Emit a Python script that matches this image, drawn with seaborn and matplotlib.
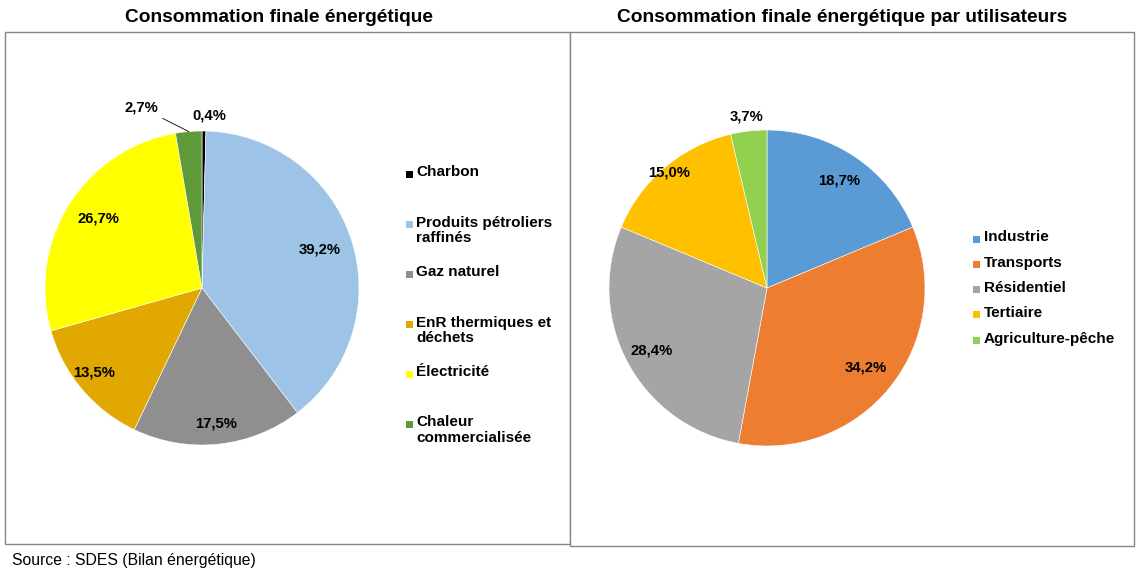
import matplotlib
matplotlib.use('Agg')
import matplotlib.pyplot as plt
import seaborn as sns
import numpy as np
from matplotlib.patches import Rectangle

sns.set_style('white')
plt.rcParams['font.family'] = ['Liberation Sans', 'DejaVu Sans']
plt.rcParams['text.color'] = 'black'

# --- data ---
sources = ['Charbon', 'Produits pétroliers\nraffinés', 'Gaz naturel',
           'EnR thermiques et\ndéchets', 'Électricité', 'Chaleur\ncommercialisée']
source_share = [0.4, 39.2, 17.5, 13.5, 26.7, 2.7]
source_colors = ['#000000', '#9DC3E6', '#8F8F8F', '#E0A800', '#FFFF00', '#5E9A3A']

users = ['Industrie', 'Transports', 'Résidentiel', 'Tertiaire', 'Agriculture-pêche']
user_share = [18.7, 34.2, 28.4, 15.0, 3.7]
user_colors = ['#5B9BD5', '#ED7D31', '#A5A5A5', '#FFC000', '#92D050']

W, H = 1143, 572
fig = plt.figure(figsize=(W / 100, H / 100), dpi=100)


def px_box(x0, y0, x1, y1):
    # pixel box (top-left origin) -> figure fraction [l, b, w, h]
    return [x0 / W, 1 - y1 / H, (x1 - x0) / W, (y1 - y0) / H]


# frames (behind the pies)
fig.patches.append(Rectangle((5 / W, 1 - 544 / H), 565 / W, 512 / H, transform=fig.transFigure,
                             facecolor='white', edgecolor='#868686', lw=1.0, zorder=-2))
fig.patches.append(Rectangle((570 / W, 1 - 546 / H), 564 / W, 514 / H, transform=fig.transFigure,
                             facecolor='white', edgecolor='#868686', lw=1.0, zorder=-1))

fig.text(279 / W, 1 - 18 / H, 'Consommation finale énergétique', ha='center', va='center',
         fontsize=13.8, fontweight='bold')
fig.text(842 / W, 1 - 18 / H, 'Consommation finale énergétique par utilisateurs', ha='center',
         va='center', fontsize=13.8, fontweight='bold')
fig.text(12 / W, 1 - 560 / H, 'Source : SDES (Bilan énergétique)', ha='left', va='center',
         fontsize=11.3)


def fmt(p):
    return f'{p:.1f}%'.replace('.', ',')


def draw_pie(cx, cy, r, values, colors, dists):
    ax = fig.add_axes(px_box(cx - r, cy - r, cx + r, cy + r), zorder=2)
    ax.patch.set_alpha(0)
    wedges, _ = ax.pie(values, colors=colors, startangle=90, counterclock=False,
                       wedgeprops=dict(edgecolor='white', linewidth=0.4))
    ax.set_xlim(-1, 1)
    ax.set_ylim(-1, 1)
    ax.set_axis_off()
    for w, v, d in zip(wedges, values, dists):
        ang = np.deg2rad((w.theta1 + w.theta2) / 2)
        dd, off = d
        ax.text(dd * np.cos(ang) + off[0], dd * np.sin(ang) + off[1], fmt(v),
                ha='center', va='center', fontsize=10.7, fontweight='bold', clip_on=False)
    return ax, wedges


# left pie
ax1, w1 = draw_pie(202, 288, 157, source_share, source_colors,
                   [(1.1, (0.03, 0.0)), (0.79, (0, 0)), (0.87, (0, 0)), (0.83, (-0.05, 0)),
                    (0.83, (0.04, 0)), (0, (0, 0))])
# the 2,7% label sits outside with a leader line
ax1.texts[-1].remove()
w = w1[-1]
ang = np.deg2rad((w.theta1 + w.theta2) / 2)
ax1.annotate(fmt(source_share[-1]), xy=(np.cos(ang), np.sin(ang)), xytext=(-0.28, 1.15),
             ha='right', va='center', fontsize=10.7, fontweight='bold', annotation_clip=False,
             arrowprops=dict(arrowstyle='-', color='black', lw=0.6, shrinkA=1, shrinkB=0))

# right pie
ax2, w2 = draw_pie(767, 288, 158, user_share, user_colors,
                   [(0.82, (0, 0)), (0.80, (0, 0)), (0.83, (0, 0)), (0.96, (0, 0)),
                    (1.09, (0, 0))])
# Excel best-fit position for the tertiary label
ax2.texts[3].set_position((-117 / 158, 96 / 158))


def draw_legend(x_marker, x_text, y_first, spacing, labels, colors):
    for i, (lab, col) in enumerate(zip(labels, colors)):
        y = y_first + i * spacing
        fig.patches.append(Rectangle((x_marker / W, 1 - (y + 3.5) / H), 7 / W, 7 / H,
                                     transform=fig.transFigure, facecolor=col, edgecolor='none'))
        fig.text(x_text / W, 1 - (y - 8.5) / H, lab, ha='left', va='top', fontsize=11,
                 fontweight='bold', linespacing=1.12)


draw_legend(406, 416, 174, 50, sources, source_colors)
draw_legend(973, 984, 239, 25.3, users, user_colors)

fig.savefig('out.png', dpi=100)
